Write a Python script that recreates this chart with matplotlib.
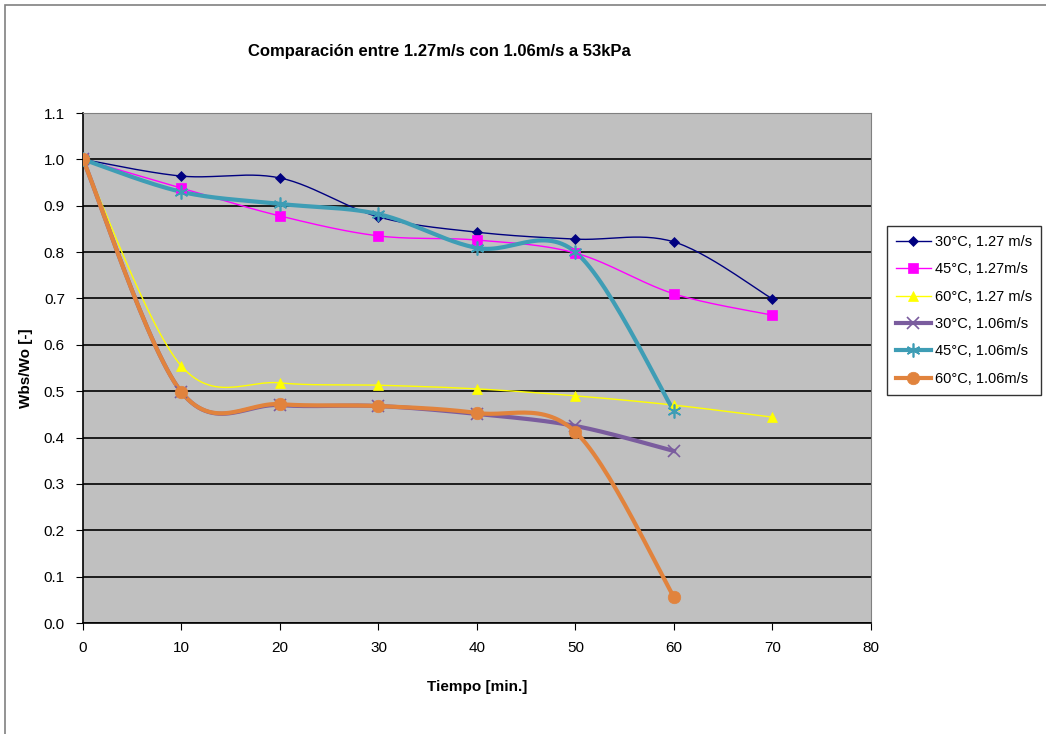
import matplotlib as mpl
import matplotlib.pyplot as plt
import numpy as np
from matplotlib.patches import Rectangle

mpl.rc('font', family=['Liberation Sans', 'DejaVu Sans'])

tiempo = [0, 10, 20, 30, 40, 50, 60, 70]
t30_127 = [1.0, 0.964, 0.960, 0.876, 0.843, 0.828, 0.822, 0.699]
t45_127 = [1.0, 0.938, 0.878, 0.835, 0.826, 0.798, 0.710, 0.664]
t60_127 = [1.0, 0.554, 0.518, 0.513, 0.505, 0.490, 0.470, 0.444]
t30_106 = [1.0, 0.498, 0.470, 0.468, 0.451, 0.425, 0.371]
t45_106 = [1.0, 0.930, 0.904, 0.882, 0.809, 0.800, 0.457]
t60_106 = [1.0, 0.498, 0.472, 0.468, 0.453, 0.412, 0.056]

etiquetas = ["30°C, 1.27 m/s", "45°C, 1.27m/s", "60°C, 1.27 m/s",
             "30°C, 1.06m/s", "45°C, 1.06m/s", "60°C, 1.06m/s"]


def suavizar(x, y, n=30):
	# curva suavizada tipo Excel (bezier con tangentes catmull-rom)
	x = np.asarray(x, float)
	y = np.asarray(y, float)
	px = np.concatenate([[x[0]], x, [x[-1]]])
	py = np.concatenate([[y[0]], y, [y[-1]]])
	xs, ys = [], []
	t = np.linspace(0, 1, n)
	for i in range(1, len(px) - 2):
		p0 = np.array([px[i], py[i]])
		p3 = np.array([px[i + 1], py[i + 1]])
		p1 = p0 + (np.array([px[i + 1], py[i + 1]]) - np.array([px[i - 1], py[i - 1]])) / 6
		p2 = p3 - (np.array([px[i + 2], py[i + 2]]) - np.array([px[i], py[i]])) / 6
		b = ((1 - t) ** 3)[:, None] * p0 + (3 * (1 - t) ** 2 * t)[:, None] * p1 \
			+ (3 * (1 - t) * t ** 2)[:, None] * p2 + (t ** 3)[:, None] * p3
		xs.extend(b[:, 0])
		ys.extend(b[:, 1])
	return xs, ys


fig = plt.figure(figsize=(10.46, 7.34), dpi=100)
fig.patches.append(Rectangle((0.005, -0.01), 1.2, 1.003, transform=fig.transFigure,
	fill=False, edgecolor='#808080', lw=1.2))
ax = fig.add_axes([0.0793, 0.1512, 0.7534, 0.6948])
ax.set_facecolor('#C0C0C0')

series = [
	(tiempo, t30_127, '#000080', 'D', 5, 1.0, etiquetas[0]),
	(tiempo, t45_127, '#FF00FF', 's', 7, 1.0, etiquetas[1]),
	(tiempo, t60_127, '#FFFF00', '^', 7, 1.0, etiquetas[2]),
	(tiempo[:7], t30_106, '#7A5C9E', 'x', 9, 3.0, etiquetas[3]),
	(tiempo[:7], t45_106, '#3E9DB5', (6, 2, 0), 10, 3.0, etiquetas[4]),
	(tiempo[:7], t60_106, '#E1833D', 'o', 9, 3.0, etiquetas[5]),
]

handles = []
for x, y, col, mk, ms, lw, lab in series:
	sx, sy = suavizar(x, y)
	ax.plot(sx, sy, color=col, lw=lw, zorder=3)
	mew = 1.2 if mk in ('x',) or isinstance(mk, tuple) else 0.5
	ax.plot(x, y, ls='none', marker=mk, ms=ms, color=col, mec=col, mew=mew, zorder=4)
	h, = ax.plot([], [], color=col, lw=lw, marker=mk, ms=ms, mec=col, mew=mew, label=lab)
	handles.append(h)

ax.set_xlim(0, 80)
ax.set_ylim(0, 1.1)
ax.set_xticks(range(0, 81, 10))
ax.set_yticks(np.arange(0, 1.11, 0.1))
ax.set_yticklabels([f"{v:.1f}" for v in np.arange(0, 1.11, 0.1)])
ax.yaxis.grid(True, color='black', lw=1.2)
ax.set_axisbelow(True)
ax.tick_params(direction='out', length=5, labelsize=11, color='black', pad=8)
for s in ['top', 'right']:
	ax.spines[s].set_color('#808080')
for s in ['left', 'bottom']:
	ax.spines[s].set_color('black')
	ax.spines[s].set_linewidth(1.2)

ax.set_xlabel('Tiempo [min.]', fontsize=11, fontweight='bold', labelpad=18)
ax.set_ylabel('Wbs/Wo [-]', fontsize=11, fontweight='bold', labelpad=8)
fig.text(0.42, 0.93, 'Comparación entre 1.27m/s con 1.06m/s a 53kPa',
	ha='center', va='center', fontsize=12, fontweight='bold')

leg = fig.legend(handles=handles, loc='upper left', bbox_to_anchor=(0.848, 0.692),
	fontsize=10.5, frameon=True, fancybox=False, edgecolor='black',
	handlelength=2.4, labelspacing=0.92, borderpad=0.6, handletextpad=0.3,
	borderaxespad=0)
leg.get_frame().set_linewidth(1.0)

fig.savefig('out.png', dpi=100)
